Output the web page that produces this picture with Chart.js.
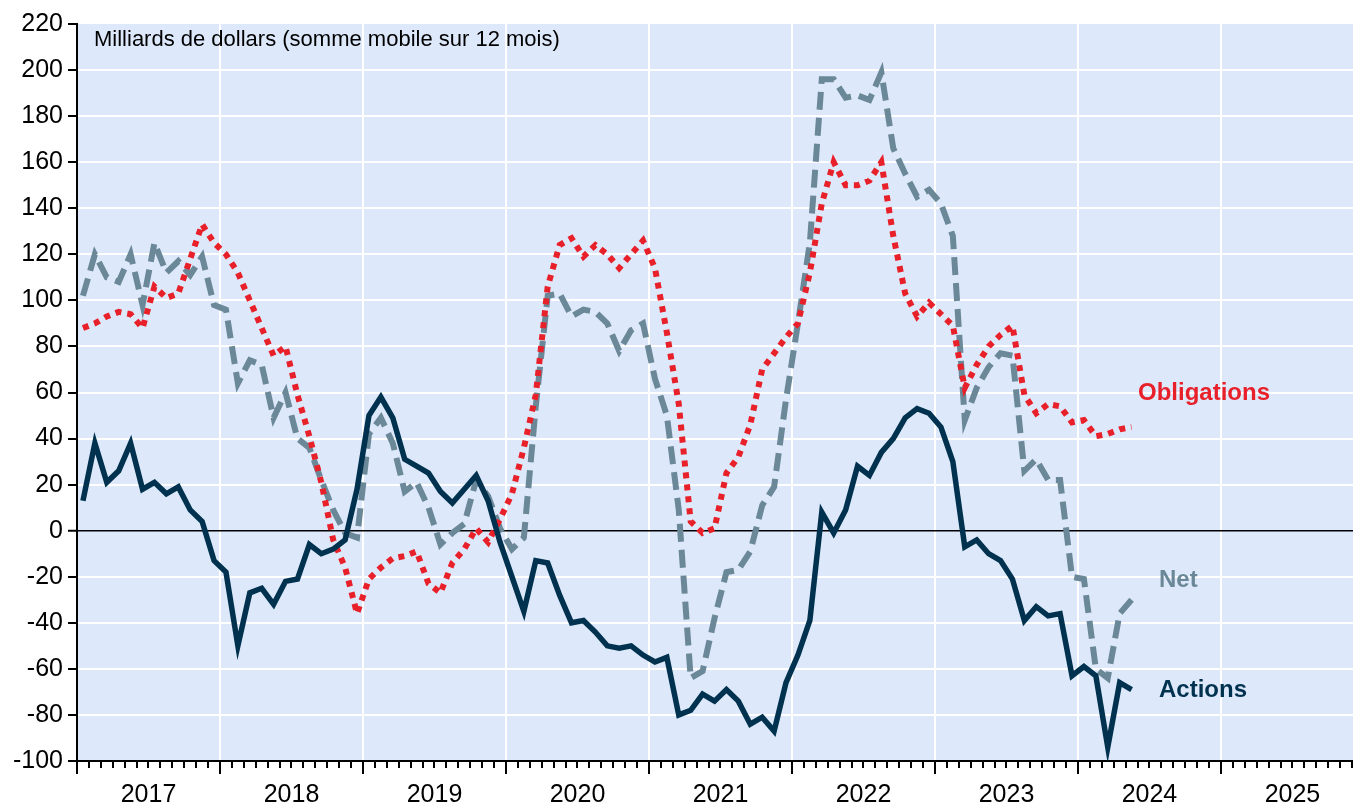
<!DOCTYPE html>
<html>
<head>
<meta charset="utf-8">
<script src="https://cdn.jsdelivr.net/npm/chart.js@4.4.1/dist/chart.umd.min.js"></script>
<style>
  html, body { margin: 0; padding: 0; background: #fff; }
  #wrap { width: 1353px; height: 805px; position: relative; }
</style>
</head>
<body>
<div id="wrap"><canvas id="chart"></canvas></div>
<script>
// monthly values, Jan 2017 .. May 2024 (12-month rolling sums, bn $)
const yearLabels = ['2017', '2018', '2019', '2020', '2021', '2022', '2023', '2024', '2025'];

const actions = [
    13, 38, 21, 26, 38, 18, 21, 16, 19, 9,
    4, -13, -18, -50, -27, -25, -32, -22, -21, -6,
    -10, -8, -4, 18, 50, 58, 49, 31, 28, 25,
    17, 12, 18, 24, 13, -5, -20, -35, -13, -14,
    -28, -40, -39, -44, -50, -51, -50, -54, -57, -55,
    -80, -78, -71, -74, -69, -74, -84, -81, -87, -66,
    -54, -39, 8, -1, 9, 28, 24, 34, 40, 49,
    53, 51, 45, 30, -7, -4, -10, -13, -21, -39,
    -33, -37, -36, -63, -59, -63, -94, -66, -69,
];

const obligations = [
    88, 90, 93, 95, 94, 88, 106, 101, 103, 118,
    133, 125, 120, 112, 100, 88, 76, 80, 59, 41,
    21, -4, -16, -36, -21, -16, -12, -11, -9, -23,
    -27, -14, -8, 1, -5, 5, 16, 36, 59, 106,
    124, 127, 119, 124, 120, 114, 120, 126, 114, 86,
    55, 4, -1, 1, 25, 32, 46, 70, 77, 84,
    90, 112, 142, 160, 150, 150, 152, 160, 128, 103,
    93, 99, 94, 89, 62, 72, 80, 85, 89, 59,
    51, 55, 54, 47, 48, 41, 42, 44, 45,
];

const net = [
    102, 120, 110, 108, 120, 98, 125, 112, 117, 111,
    119, 98, 96, 64, 74, 72, 49, 60, 40, 36,
    22, 9, -1, -3, 42, 49, 38, 17, 21, 10,
    -6, -1, 3, 22, 15, 1, -8, -3, 54, 102,
    103, 93, 96, 95, 90, 78, 87, 90, 66, 50,
    9, -64, -61, -38, -18, -17, -9, 11, 19, 57,
    90, 125, 196, 196, 188, 189, 187, 199, 166, 155,
    145, 148, 142, 128, 48, 62, 71, 77, 76, 26,
    31, 22, 22, -20, -21, -60, -64, -36, -30,
];

const COLORS = {
    actions: '#00324f',
    obligations: '#e8202a',
    net: '#6b8898',
    plotBg: '#dde9fb',
};
const FONT = '"Liberation Sans", Arial, sans-serif';

// points sit in the middle of their month (x = months since Jan 2017)
const toPoints = (arr) => arr.map((v, i) => ({ x: i + 0.5, y: v }));

const decor = {
    id: 'decor',
    beforeDraw(chart) {
        const { ctx, chartArea: a } = chart;
        ctx.save();
        ctx.fillStyle = '#fff';
        ctx.fillRect(0, 0, chart.width, chart.height);
        ctx.fillStyle = COLORS.plotBg;
        ctx.fillRect(a.left, a.top, a.right - a.left, a.bottom - a.top);
        ctx.restore();
    },
    afterDraw(chart) {
        const { ctx, chartArea: a } = chart;
        const xs = chart.scales.x;
        ctx.save();
        // month / year tick marks under the x axis
        ctx.strokeStyle = '#000';
        ctx.lineWidth = 2;
        xs.ticks.forEach((t) => {
            const px = Math.round(xs.getPixelForValue(t.value));
            const len = t.value % 12 === 0 ? 13 : 7;
            ctx.beginPath();
            ctx.moveTo(px, a.bottom);
            ctx.lineTo(px, a.bottom + len);
            ctx.stroke();
        });

        ctx.fillStyle = '#000';
        ctx.font = `22px ${FONT}`;
        ctx.textBaseline = 'alphabetic';
        ctx.fillText('Milliards de dollars (somme mobile sur 12 mois)', 94, 46);

        ctx.font = `bold 24px ${FONT}`;
        ctx.fillStyle = COLORS.obligations;
        ctx.fillText('Obligations', 1138, 400);
        ctx.fillStyle = COLORS.net;
        ctx.fillText('Net', 1159, 587);
        ctx.fillStyle = COLORS.actions;
        ctx.fillText('Actions', 1159, 697);
        ctx.restore();
    },
};

new Chart(document.getElementById('chart'), {
    type: 'line',
    data: {
        datasets: [
            {
                label: 'Actions',
                data: toPoints(actions),
                borderColor: COLORS.actions,
                borderWidth: 5.5,
                pointRadius: 0,
                tension: 0,
            },
            {
                label: 'Obligations',
                data: toPoints(obligations),
                borderColor: COLORS.obligations,
                borderWidth: 6,
                borderDash: [6, 6],
                pointRadius: 0,
                tension: 0,
            },
            {
                label: 'Net',
                data: toPoints(net),
                borderColor: COLORS.net,
                borderWidth: 6,
                borderDash: [18, 8],
                pointRadius: 0,
                tension: 0,
            },
        ],
    },
    options: {
        responsive: true,
        maintainAspectRatio: false,
        animation: false,
        layout: { padding: { top: 24, right: 0, bottom: 0, left: 0 } },
        plugins: {
            legend: { display: false },
            tooltip: { enabled: false },
        },
        scales: {
            x: {
                type: 'linear',
                min: 0,
                max: 107.08,
                afterBuildTicks: (axis) => {
                    axis.ticks = Array.from({ length: 108 }, (_, k) => ({ value: k }));
                },
                afterFit: (axis) => {
                    axis.height = 44;
                    axis.paddingLeft = 0;
                    axis.paddingRight = 0;
                },
                border: { color: '#000', width: 2 },
                grid: {
                    drawTicks: false,
                    color: (c) => (c.tick && c.tick.value % 12 === 0 && c.tick.value > 0 ? '#fff' : 'rgba(0,0,0,0)'),
                    lineWidth: 2,
                },
                ticks: {
                    autoSkip: false,
                    maxRotation: 0,
                    padding: 19,
                    color: '#000',
                    font: { family: FONT, size: 25 },
                    callback: (v) => (v % 12 === 6 ? yearLabels[(v - 6) / 12] : ''),
                },
            },
            y: {
                min: -100,
                max: 220,
                afterFit: (axis) => { axis.width = 77; },
                border: { color: '#000', width: 2 },
                grid: {
                    color: (c) => {
                        const v = c.tick.value;
                        if (v === 0) return '#000';
                        if (v === 220 || v === -100) return 'rgba(0,0,0,0)';
                        return '#fff';
                    },
                    lineWidth: (c) => (c.tick.value === 0 ? 1.5 : 2),
                    tickColor: '#000',
                    tickLength: 9,
                    tickWidth: 2,
                },
                ticks: {
                    stepSize: 20,
                    padding: 5,
                    color: '#000',
                    font: { family: FONT, size: 25 },
                },
            },
        },
    },
    plugins: [decor],
});
</script>
</body>
</html>
